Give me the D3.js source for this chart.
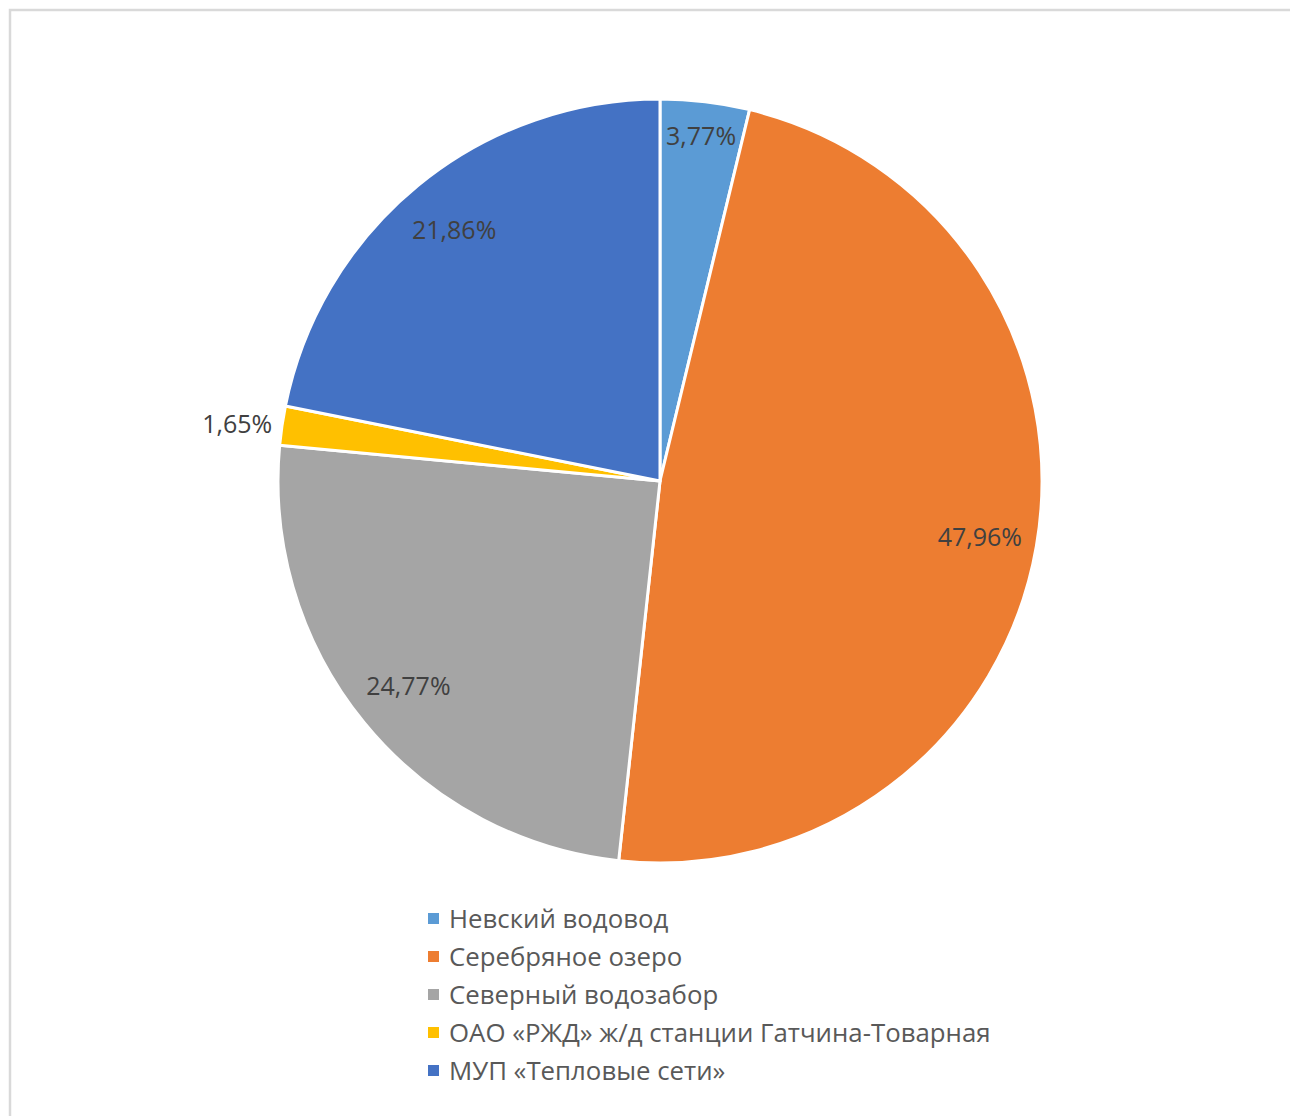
<!DOCTYPE html>
<html>
<head>
<meta charset="utf-8">
<script src="https://cdn.jsdelivr.net/npm/d3@7"></script>
<style>
  body { margin: 0; background: #fff; }
  svg { display: block; }
</style>
</head>
<body>
<div id="viz"></div>
<script>
// data
const categories = [
  'Невский водовод',
  'Серебряное озеро',
  'Северный водозабор',
  'ОАО «РЖД» ж/д станции Гатчина-Товарная',
  'МУП «Тепловые сети»'
]
const shares = [3.77, 47.96, 24.77, 1.65, 21.86]
const colors = ['#5B9BD5', '#ED7D31', '#A5A5A5', '#FFC000', '#4472C4']

const fontFamily = '"Open Sans", "Noto Sans", sans-serif'

let dimensions = {
  width: 1290,
  height: 1116,
  cx: 660,
  cy: 481,
  radius: 382,
}

const wrapper = d3.select('#viz')
  .append('svg')
  .attr('width', dimensions.width)
  .attr('height', dimensions.height)

// chart frame (only top / left edges are visible)
wrapper.append('rect')
  .attr('x', 10)
  .attr('y', 10)
  .attr('width', 1300)
  .attr('height', 1130)
  .attr('fill', 'none')
  .attr('stroke', '#d9d9d9')
  .attr('stroke-width', 2.5)

const data = categories.map((c, i) => ({name: c, value: shares[i], color: colors[i]}))

const pie = d3.pie()
  .sort(null)
  .value(d => d.value)

const arcs = pie(data)

const arcGenerator = d3.arc()
  .innerRadius(0)
  .outerRadius(dimensions.radius)

const pieChart = wrapper.append('g')
  .attr('transform', `translate(${dimensions.cx},${dimensions.cy})`)

pieChart.selectAll('path')
  .data(arcs)
  .join('path')
  .attr('d', arcGenerator)
  .attr('fill', d => d.data.color)
  .attr('stroke', '#fff')
  .attr('stroke-width', 3)
  .attr('stroke-linejoin', 'round')

// labels: inside for normal slices, outside for tiny ones
const fmt = v => d3.format('.2f')(v).replace('.', ',') + '%'

function labelPos(d) {
  const a = (d.startAngle + d.endAngle) / 2
  let r
  if (d.data.value < 2) r = dimensions.radius + 10
  else if (d.data.value < 5) r = dimensions.radius * 0.91
  else r = dimensions.radius * 0.85
  return [Math.sin(a) * r, -Math.cos(a) * r]
}

pieChart.selectAll('text.label')
  .data(arcs)
  .join('text')
  .attr('class', 'label')
  .attr('x', d => labelPos(d)[0])
  .attr('y', d => labelPos(d)[1])
  .attr('dy', '0.35em')
  .attr('text-anchor', d => d.data.value < 2 ? 'end' : 'middle')
  .style('font-family', fontFamily)
  .style('font-size', '25px')
  .style('fill', '#404040')
  .text(d => fmt(d.data.value))

// legend
const legend = wrapper.append('g')
  .attr('transform', 'translate(428,919)')

const rowStep = 38

const rows = legend.selectAll('g')
  .data(data)
  .join('g')
  .attr('transform', (d, i) => `translate(0,${i * rowStep})`)

rows.append('rect')
  .attr('x', 0)
  .attr('y', -6)
  .attr('width', 11)
  .attr('height', 11)
  .attr('fill', d => d.color)

rows.append('text')
  .attr('x', 21)
  .attr('dy', '0.35em')
  .style('font-family', fontFamily)
  .style('font-size', '25.8px')
  .style('fill', '#595959')
  .text(d => d.name)
</script>
</body>
</html>
